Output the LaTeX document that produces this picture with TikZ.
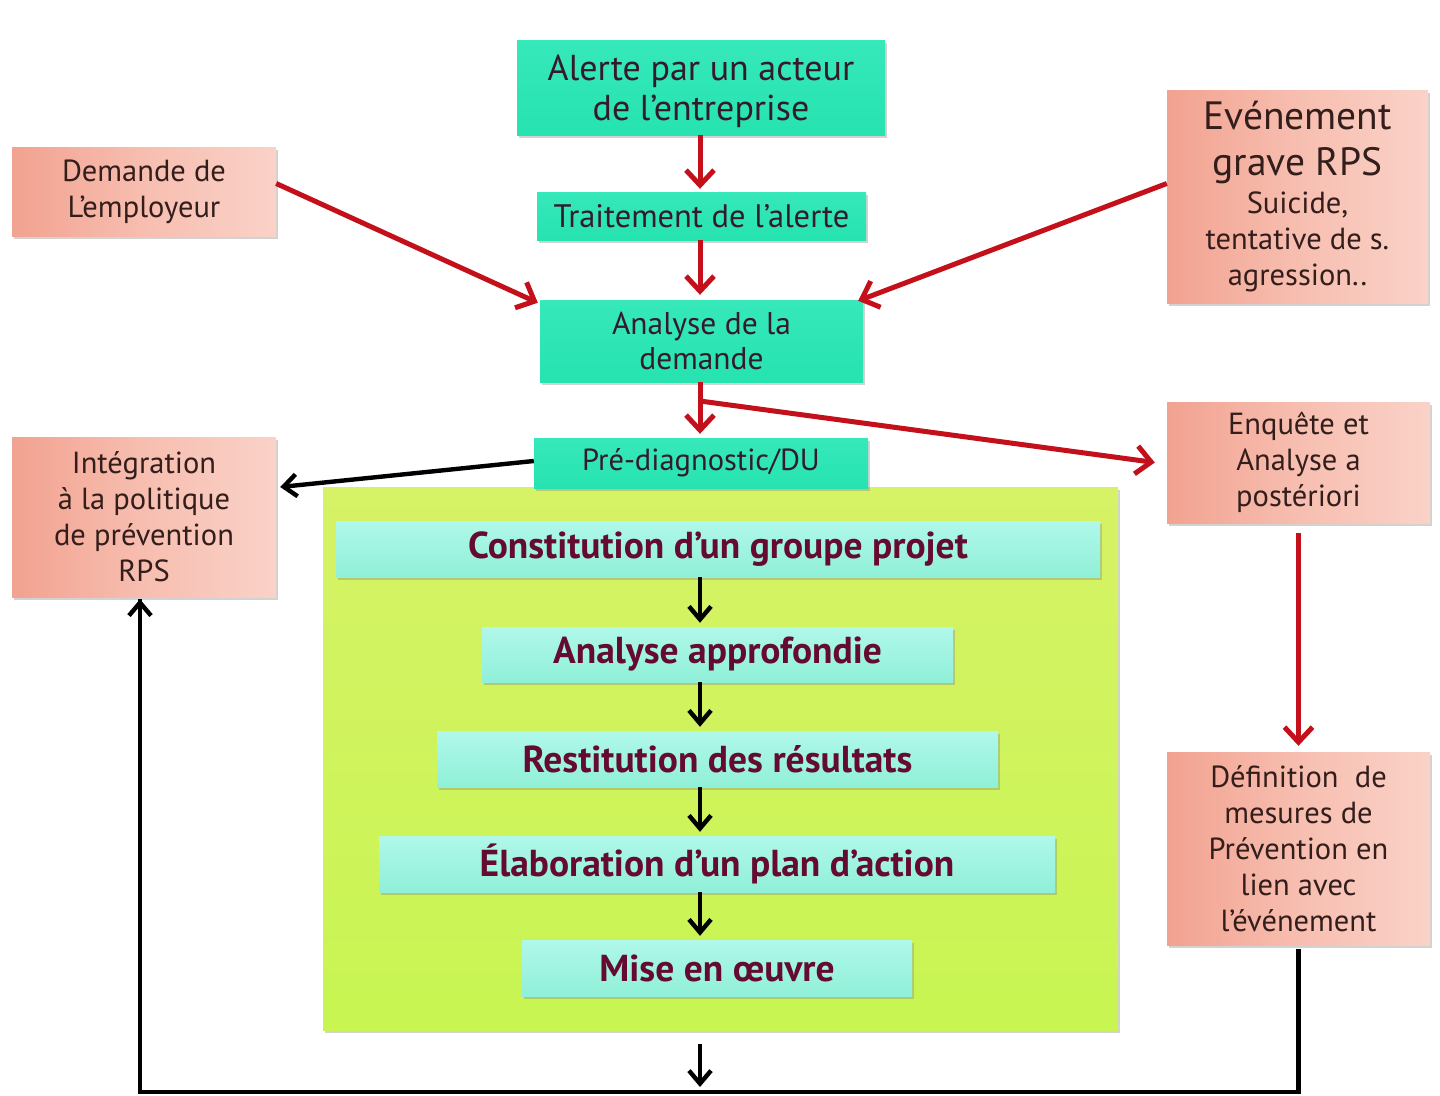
\documentclass[tikz,border=0pt]{standalone}
\usepackage{fontspec}
\setmainfont{PT Sans}
\usetikzlibrary{arrows.meta,shadows,calc}
\definecolor{tealbox}{HTML}{26E3B0}
\definecolor{tealtop}{HTML}{36E8BA}
\definecolor{cyanA}{HTML}{B0F8EA}
\definecolor{cyanB}{HTML}{90F0D8}
\definecolor{salmA}{HTML}{F2A290}
\definecolor{salmM}{HTML}{F7BEB0}
\definecolor{salmB}{HTML}{FAD2C8}
\definecolor{greenA}{HTML}{D6F266}
\definecolor{greenB}{HTML}{C8F552}
\definecolor{redarr}{HTML}{C3101A}
\definecolor{darktxt}{HTML}{351A2A}
\definecolor{maroon}{HTML}{650B30}
\definecolor{salmtxt}{HTML}{331E1C}
\newcommand{\bigev}{\fontsize{39.5}{45}\selectfont}
\newcommand{\smallev}{\fontsize{30.5}{36}\selectfont}
\tikzset{
  shad/.style={drop shadow={opacity=0.35,shadow xshift=2pt,shadow yshift=-3pt}},
  tealnode/.style={shad,draw=none,top color=tealtop,bottom color=tealbox,align=center,text=darktxt,inner sep=0pt},
  cyannode/.style={shad,draw=none,top color=cyanA,bottom color=cyanB,align=center,text=maroon,inner sep=0pt,
     font=\bfseries\fontsize{37.5}{40}\selectfont},
  salmnode/.style={shad,draw=none,left color=salmA,right color=salmB,middle color=salmM,align=center,text=salmtxt,inner sep=0pt,
     font=\fontsize{30.5}{36}\selectfont},
  greennode/.style={shad,draw=none,top color=greenA,bottom color=greenB,inner sep=0pt},
  redarrow/.style={draw=redarr,line width=5pt,-{Straight Barb[length=15pt,width=28pt,line width=5pt]}},
  blkarrow/.style={draw=black,line width=4.4pt,-{Straight Barb[length=13pt,width=22pt,line width=4.4pt]}},
  blkline/.style={draw=black,line width=4.4pt},
}
\begin{document}
\begin{tikzpicture}[x=1pt,y=-1pt]
\useasboundingbox (0,0) rectangle (1440,1095);
\fill[white] (0,0) rectangle (1440,1095);

% green container
\node[greennode,minimum width=795pt,minimum height=543pt] (cont) at (720.5,758.5) {};

% teal boxes
\node[tealnode,minimum width=368pt,minimum height=95pt,font=\fontsize{36}{40}\selectfont] (alerte) at (701,87.5) {\\[-6pt]Alerte par un acteur\\de l’entreprise};
\node[tealnode,minimum width=329pt,minimum height=48pt,font=\fontsize{32.5}{34}\selectfont] (trait) at (701.5,216) {Traitement de l’alerte};
\node[tealnode,minimum width=323pt,minimum height=82pt,font=\fontsize{31.5}{35}\selectfont] (ana) at (701.5,341) {Analyse de la\\demande};
\node[tealnode,minimum width=334pt,minimum height=50pt,font=\fontsize{30.5}{32}\selectfont] (pre) at (701,463) {Pré-diagnostic/DU};

% salmon boxes
\node[salmnode,minimum width=264pt,minimum height=89pt] (dem) at (144,191.5) {Demande de\\L’employeur};
\node[salmnode,minimum width=261pt,minimum height=213pt] (evt) at (1297.5,196.5) {\bigev Evénement\\[10pt]\bigev grave RPS\\[2pt]\smallev Suicide,\\tentative de s.\\agression..};
\node[salmnode,minimum width=263pt,minimum height=121pt] (enq) at (1298.5,462.5) {Enquête et\\Analyse a\\postériori};
\node[salmnode,minimum width=263pt,minimum height=193pt] (def) at (1298.5,848.5) {Définition\ \ de\\mesures de\\Prévention en\\lien avec\\l’événement};
\node[salmnode,minimum width=264pt,minimum height=160pt] (integ) at (144,517) {Intégration\\à la politique\\de prévention\\RPS};

% inner cyan boxes
\node[cyannode,minimum width=764pt,minimum height=56pt] (c1) at (718,549) {Constitution d’un groupe projet};
\node[cyannode,minimum width=471pt,minimum height=55pt] (c2) at (717.5,654.5) {Analyse approfondie};
\node[cyannode,minimum width=561pt,minimum height=56pt] (c3) at (717.5,759) {Restitution des résultats};
\node[cyannode,minimum width=676pt,minimum height=56pt] (c4) at (717,864) {Élaboration d’un plan d’action};
\node[cyannode,minimum width=390pt,minimum height=56pt] (c5) at (717,968) {Mise en œuvre};

\coordinate (axis) at (700,0);
\coordinate (bottomline) at (0,1092);
\coordinate (split) at (700,401);
\coordinate (botend) at (700,1087);

% red arrows
\draw[redarrow] (alerte.south -| axis) -- ([yshift=3pt]trait.north -| axis);
\draw[redarrow] (trait.south -| axis) -- ([yshift=5pt]ana.north -| axis);
\draw[redarrow] ([yshift=8pt]dem.east) -- ([xshift=-2pt,yshift=-3pt]ana.north west);
\draw[redarrow] ([yshift=13pt]evt.west) -- ([xshift=-5pt,yshift=-1pt]ana.north east);
\draw[redarrow] (ana.south -| axis) -- ([yshift=4pt]pre.north -| axis);
\draw[redarrow] (split) -- ([xshift=-12pt]enq.west);
\draw[redarrow] ([yshift=-10pt]enq.south) -- ([yshift=6pt]def.north);

% black arrows
\draw[blkarrow] ([yshift=2pt]pre.west) -- ([xshift=4pt,yshift=30pt]integ.east);
\draw[blkarrow] (c1.south -| axis) -- ([yshift=4pt]c2.north -| axis);
\draw[blkarrow] (c2.south -| axis) -- ([yshift=4pt]c3.north -| axis);
\draw[blkarrow] (c3.south -| axis) -- ([yshift=4pt]c4.north -| axis);
\draw[blkarrow] (c4.south -| axis) -- ([yshift=4pt]c5.north -| axis);
\draw[blkarrow] ([yshift=-14pt]cont.south -| axis) -- (botend);
\draw[blkline] ([yshift=-4pt]def.south) -- (def.south |- bottomline) -| ([xshift=-4pt,yshift=-2pt]integ.south);
\draw[blkarrow] ([xshift=-4pt]integ.south |- bottomline) -- ([xshift=-4pt,yshift=-2pt]integ.south);
\end{tikzpicture}
\end{document}
